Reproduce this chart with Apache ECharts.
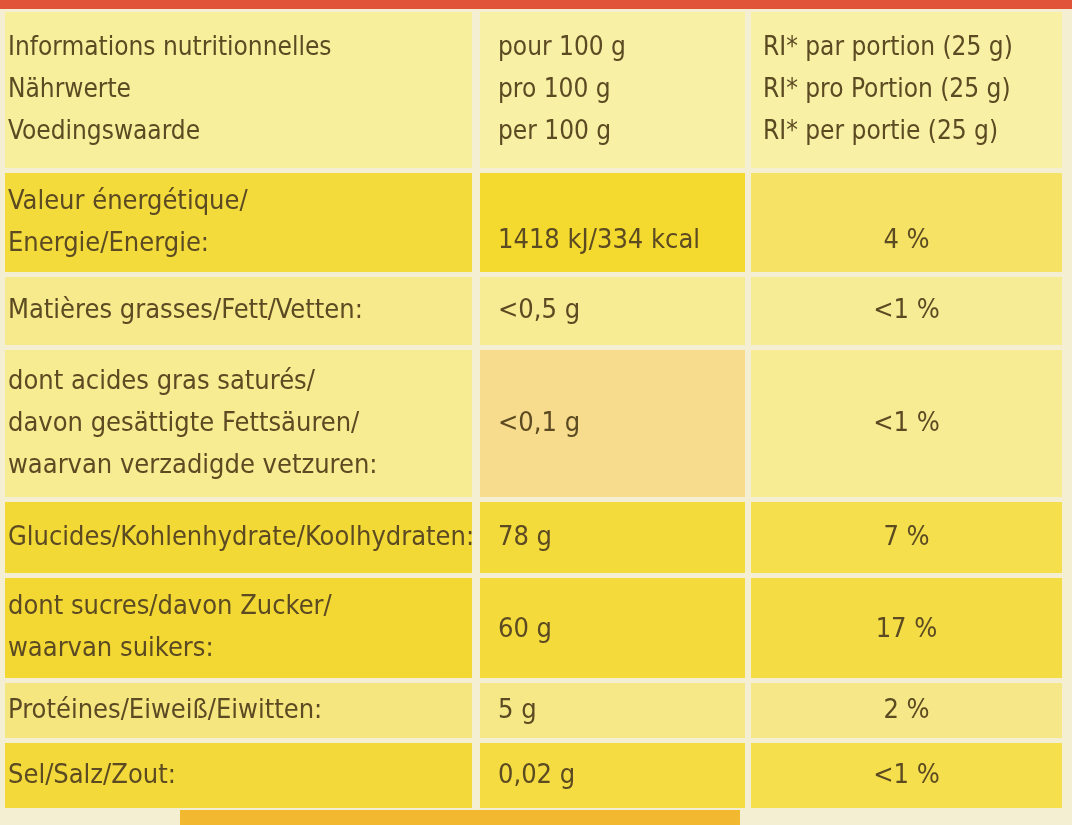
<!DOCTYPE html>
<html><head><meta charset="utf-8">
<script src="https://cdn.jsdelivr.net/npm/echarts@6/dist/echarts.min.js"></script>
<style>html,body{margin:0;padding:0;background:#f4efd2}#c{width:1072px;height:825px}</style>
</head><body><div id="c"></div>
<script>
const nutrientLabels = [
  ["Informations nutritionnelles","Nährwerte","Voedingswaarde"],
  ["Valeur énergétique/","Energie/Energie:"],
  ["Matières grasses/Fett/Vetten:"],
  ["dont acides gras saturés/","davon gesättigte Fettsäuren/","waarvan verzadigde vetzuren:"],
  ["Glucides/Kohlenhydrate/Koolhydraten:"],
  ["dont sucres/davon Zucker/","waarvan suikers:"],
  ["Protéines/Eiweiß/Eiwitten:"],
  ["Sel/Salz/Zout:"]
];
const per100g = [
  ["pour 100 g","pro 100 g","per 100 g"],
  ["1418 kJ/334 kcal"],["<0,5 g"],["<0,1 g"],["78 g"],["60 g"],["5 g"],["0,02 g"]
];
const riPortion = [
  ["RI* par portion (25 g)","RI* pro Portion (25 g)","RI* per portie (25 g)"],
  ["4 %"],["<1 %"],["<1 %"],["7 %"],["17 %"],["2 %"],["<1 %"]
];
// layout (not data)
const rowTops = [12,173,277,350,502,578,683,743];
const rowBottoms = [168,272,345,497,573,678,738,808];
const rowColors = [
  ['#f7ef9c','#f8f0a4','#f8f0a4'],
  ['#f4db3c','#f4d92e','#f6e264'],
  ['#f6ea8c','#f7ec94','#f7ec96'],
  ['#f7ec92','#f6dc8c','#f7eb94'],
  ['#f3d936','#f4db3c','#f5df4c'],
  ['#f3d834','#f4da3a','#f4dc44'],
  ['#f6e680','#f6e886','#f6e888'],
  ['#f3d93a','#f4dc42','#f5df4c']
];
const colX = [[5,472],[480,745],[751,1062]];
const font = '"Liberation Sans Narrow","DejaVu Sans Condensed",sans-serif';
const txt = '#5b4a22';

const chart = echarts.init(document.getElementById('c'));
chart.setOption({
  backgroundColor:'#f4efd2',
  animation:false,
  grid:{left:0,right:0,top:0,bottom:0},
  xAxis:{type:'value',min:0,max:1072,show:false},
  yAxis:{type:'value',min:0,max:825,inverse:true,show:false},
  graphic:[
    {type:'rect',shape:{x:0,y:0,width:1072,height:9},style:{fill:'#e2543a'},z:5},
    {type:'rect',shape:{x:180,y:810,width:560,height:15},style:{fill:'#f2b830'},z:5}
  ],
  series:[{
    type:'custom',
    data: nutrientLabels.map((_,i)=>[i]),
    renderItem:(params,api)=>{
      const i = api.value(0);
      const top = api.coord([0,rowTops[i]])[1], bot = api.coord([0,rowBottoms[i]])[1];
      const children=[];
      const cols=[nutrientLabels[i],per100g[i],riPortion[i]];
      cols.forEach((lines,c)=>{
        const x0=api.coord([colX[c][0],0])[0], x1=api.coord([colX[c][1],0])[0];
        children.push({type:'rect',shape:{x:x0,y:top,width:x1-x0,height:bot-top},style:{fill:rowColors[i][c]}});
        const lh=42, mid=(top+bot)/2, start=mid-(lines.length-1)*lh/2;
        const center = (c===2 && i>0);
        const tx = c===0? x0+3 : c===1? x0+18 : (center? (x0+x1)/2 : x0+12);
        lines.forEach((t,k)=>{
          let y = start+k*lh;
          if(i===1 && c>0) y = mid+18;
          if(i===5 && c>0) y = mid+2;
          children.push({type:'text',style:{text:t,x:tx,y:y,fill:txt,
            font:(i===0?'26px ':'27px ')+font,
            align:center?'center':'left',verticalAlign:'middle'}});
        });
      });
      return {type:'group',children};
    }
  }]
});
</script></body></html>
